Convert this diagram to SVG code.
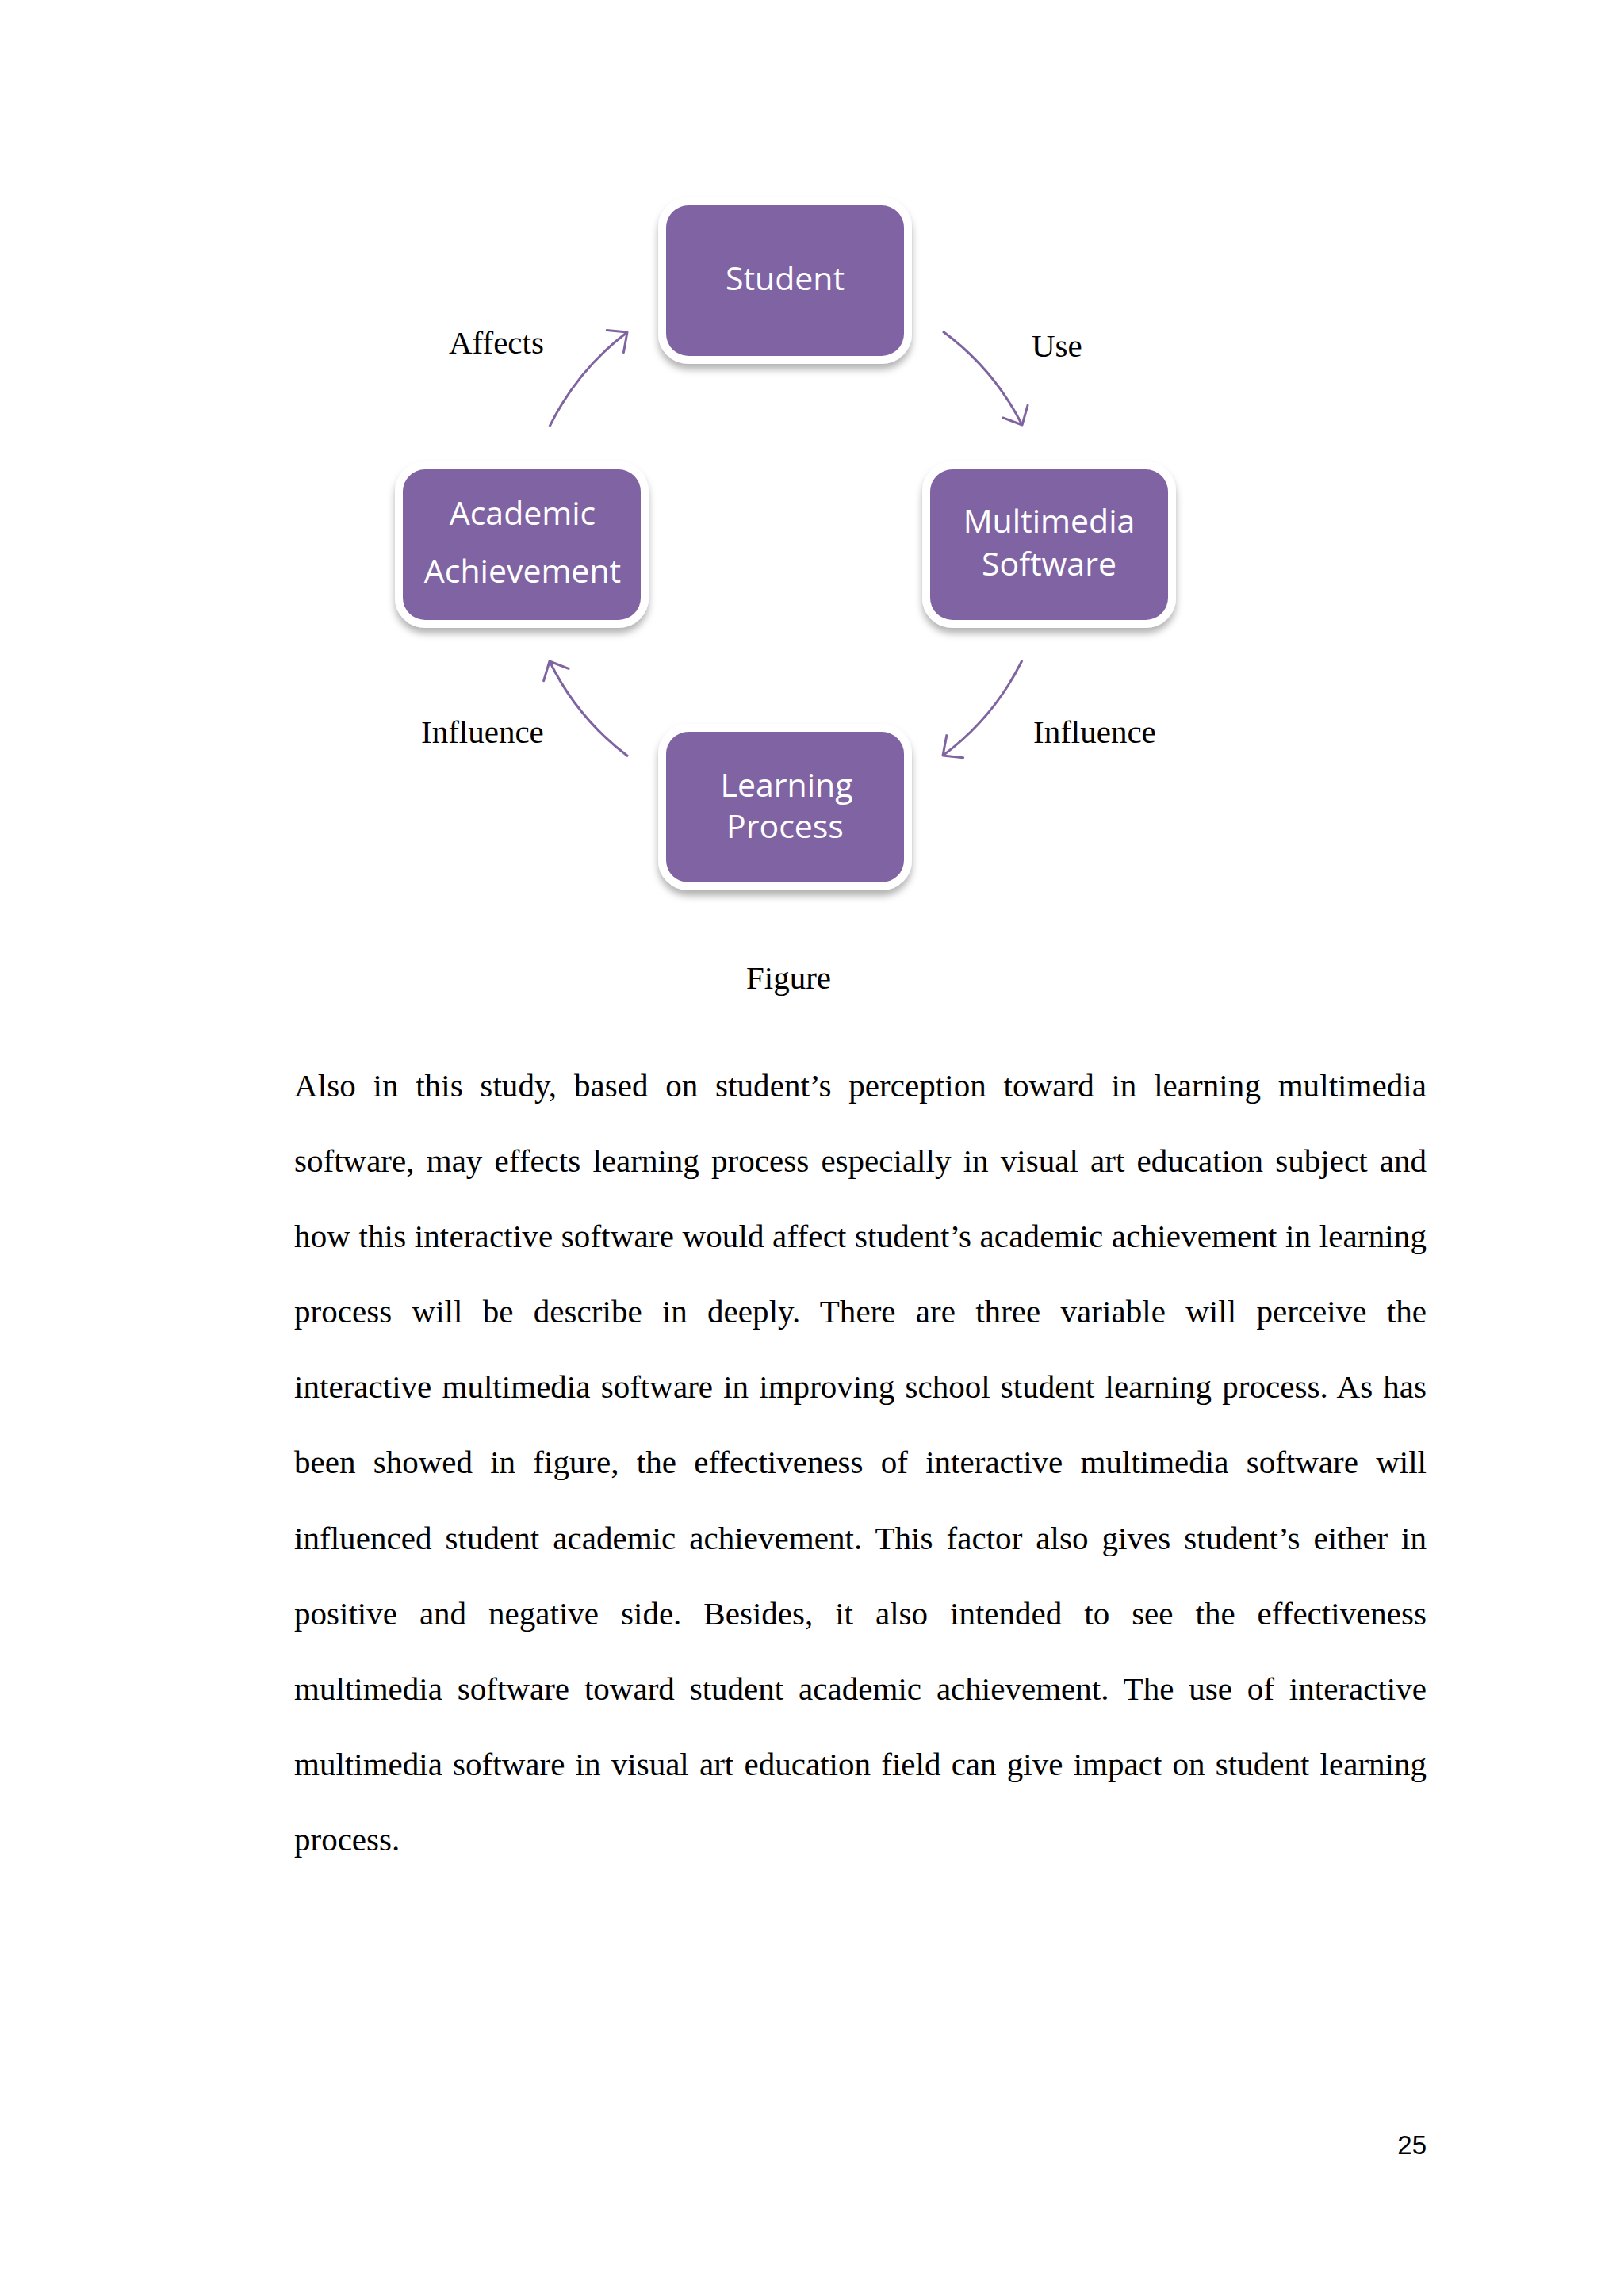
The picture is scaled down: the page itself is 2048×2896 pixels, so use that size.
<svg xmlns="http://www.w3.org/2000/svg" width="2048" height="2896" viewBox="0 0 2048 2896">
<style>
.box{fill:#8064A2;stroke:#ffffff;stroke-width:20;paint-order:stroke;filter:url(#sh)}
.nl{font-family:"Open Sans","Liberation Sans",sans-serif;font-size:41px;fill:#ffffff;text-anchor:middle}
.lbl{font-family:"Liberation Serif","Times New Roman",serif;font-size:41px;fill:#000000}
.body{font-family:"Liberation Serif","Times New Roman",serif;font-size:41px;fill:#000000}
.arc{fill:none;stroke:#8064A2;stroke-width:3;marker-end:url(#ah)}
.pg{font-family:"Liberation Sans",Arial,sans-serif;font-size:33px;fill:#000000;text-anchor:end}
</style>
<defs>
<filter id="sh" x="-20%" y="-20%" width="140%" height="150%">
<feDropShadow dx="0" dy="7" stdDeviation="5" flood-color="#000000" flood-opacity="0.3"/>
</filter>
<marker id="ah" markerUnits="userSpaceOnUse" markerWidth="60" markerHeight="60" viewBox="-30 -30 60 60" refX="0" refY="0" orient="auto">
<path d="M -19 -17.5 L 0 0 L -19 17.5" fill="none" stroke="#8064A2" stroke-width="3" stroke-linecap="round" stroke-linejoin="round"/>
</marker>
</defs>
<rect x="0" y="0" width="2048" height="2896" fill="#ffffff"/>

<g id="connectors">
<path id="c-use" class="arc" d="M 1189 418 A 333 333 0 0 1 1289 536"/>
<path id="c-influence-right" class="arc" d="M 1289 833 A 333 333 0 0 1 1189 953"/>
<path id="c-influence-left" class="arc" d="M 792 954 A 333 333 0 0 1 693 834"/>
<path id="c-affects" class="arc" d="M 693 538 A 333 333 0 0 1 791 419"/>
<text class="lbl" x="1301" y="450">Use</text>
<text class="lbl" x="1303" y="937">Influence</text>
<text class="lbl" x="531" y="937">Influence</text>
<text class="lbl" x="566" y="446">Affects</text>
</g>

<g id="node-student">
<rect class="box" x="840" y="259" width="300" height="190" rx="28"/>
<text class="nl" x="990" y="366">Student</text>
</g>
<g id="node-multimedia">
<rect class="box" x="1173" y="592" width="300" height="190" rx="28"/>
<text class="nl" x="1323" y="672">Multimedia</text>
<text class="nl" x="1323" y="726">Software</text>
</g>
<g id="node-learning">
<rect class="box" x="840" y="923" width="300" height="190" rx="28"/>
<text class="nl" x="992" y="1005">Learning</text>
<text class="nl" x="990" y="1057">Process</text>
</g>
<g id="node-academic">
<rect class="box" x="508" y="592" width="300" height="190" rx="28"/>
<text class="nl" x="659" y="662">Academic</text>
<text class="nl" x="659" y="735">Achievement</text>
</g>

<text class="lbl" x="941" y="1247">Figure</text>

<g id="body-text">
<text class="body" x="371" y="1383" word-spacing="11.4" textLength="1428" lengthAdjust="spacing">Also in this study, based on student’s perception toward in learning multimedia</text>
<text class="body" x="371" y="1478" word-spacing="5" textLength="1428" lengthAdjust="spacing">software, may effects learning process especially in visual art education subject and</text>
<text class="body" x="371" y="1573" textLength="1428" lengthAdjust="spacing">how this interactive software would affect student’s academic achievement in learning</text>
<text class="body" x="371" y="1668" word-spacing="14.9" textLength="1428" lengthAdjust="spacing">process will be describe in deeply. There are three variable will perceive the</text>
<text class="body" x="371" y="1763" word-spacing="2.85" textLength="1428" lengthAdjust="spacing">interactive multimedia software in improving school student learning process. As has</text>
<text class="body" x="371" y="1858" word-spacing="12" textLength="1428" lengthAdjust="spacing">been showed in figure, the effectiveness of interactive multimedia software will</text>
<text class="body" x="371" y="1954" word-spacing="6.7" textLength="1428" lengthAdjust="spacing">influenced student academic achievement. This factor also gives student’s either in</text>
<text class="body" x="371" y="2049" word-spacing="17.7" textLength="1428" lengthAdjust="spacing">positive and negative side. Besides, it also intended to see the effectiveness</text>
<text class="body" x="371" y="2144" word-spacing="8.6" textLength="1428" lengthAdjust="spacing">multimedia software toward student academic achievement. The use of interactive</text>
<text class="body" x="371" y="2239" word-spacing="3" textLength="1428" lengthAdjust="spacing">multimedia software in visual art education field can give impact on student learning</text>
<text class="body" x="371" y="2334">process.</text>
</g>

<text class="pg" x="1799" y="2717">25</text>
</svg>
